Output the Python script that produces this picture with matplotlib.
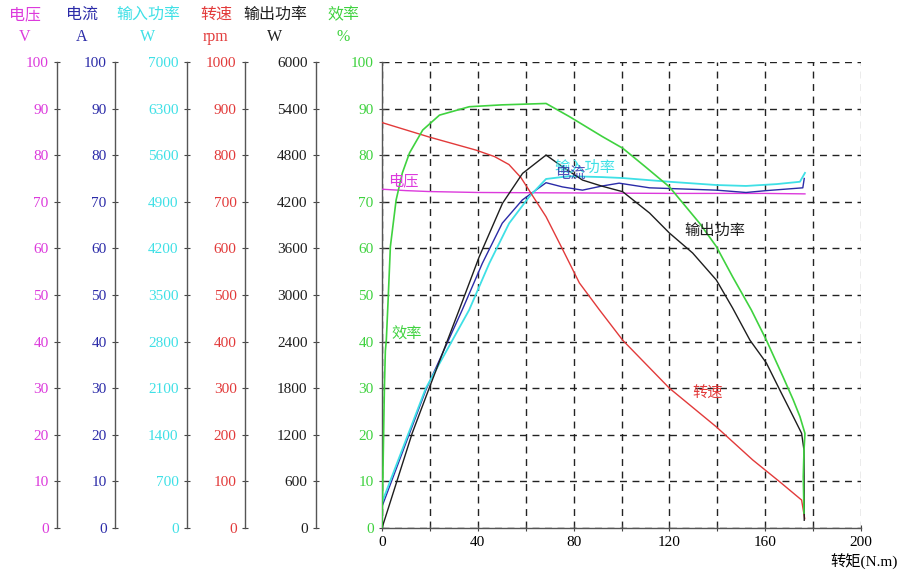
import numpy as np
import matplotlib
matplotlib.use("Agg")
from matplotlib import pyplot as plt

plt.rcParams['font.family'] = ['Liberation Serif', 'Noto Sans CJK SC', 'DejaVu Sans']

# torque (N.m) vs. each quantity
eff_x = [0, 0.5, 1.0, 1.4, 1.8, 2.5, 3.5, 5.9, 8.5, 11.5, 17, 24, 36.4, 50, 68.5, 78.2,
         92, 100.5, 110, 120, 132.6, 139.6, 146.4, 154.2, 160.5, 167.4, 171.7, 174.5,
         176.6, 176.2, 175.9, 176.2]
eff_y = [0, 15, 30, 38, 40.3, 48.3, 60.4, 70.4, 76.2, 80.5, 85.4, 88.6, 90.4, 90.8, 91.1,
         88.3, 84, 81.5, 77.5, 73.2, 65.4, 60.4, 53.9, 46.8, 40.3, 32.5, 27.5, 23.9,
         20.3, 16.7, 11, 3.2]

out_x = [0, 12.6, 19.7, 32.2, 40.6, 50.3, 58.7, 68.5, 75.3, 83.7, 92, 100.5, 111.7,
         120, 129.7, 139.6, 146.4, 153.6, 160.5, 166.1, 171, 175.2, 176.2, 176.3]
out_w = [0, 1220, 1800, 2807, 3493, 4180, 4566, 4802, 4652, 4480, 4400, 4330, 4056,
         3798, 3541, 3193, 2832, 2420, 2124, 1777, 1478, 1219, 1001, 100]

spd_x = [0, 19.7, 39.2, 47, 53, 58, 63, 68.5, 75.5, 82.4, 90.8, 100.5, 120, 139.6,
         154.8, 166.1, 175.2, 176.5]
spd_rpm = [870, 839, 811, 797, 780, 752, 712, 668, 597, 526, 468, 403, 300, 217,
           146, 99, 60, 20]

volt_x = [0, 10, 19.7, 40, 80, 120, 160, 176.6]
volt_v = [72.7, 72.4, 72.2, 72.0, 71.9, 71.8, 71.8, 71.7]

cur_x = [0, 18.3, 33.5, 41.9, 50.2, 58.6, 68.5, 75.3, 83.7, 92, 99, 111.7, 139.6,
         152, 160.5, 175.7, 176.3]
cur_a = [4.6, 29.6, 46.8, 56.8, 65.4, 70.4, 74.1, 73.2, 72.5, 73.4, 74, 73, 72.5,
         72, 72.4, 73, 75]

pin_x = [0, 18.3, 36.4, 44.8, 53.1, 61.5, 68.5, 78.2, 92, 100.5, 120, 139.6, 152,
         164.8, 174.5, 176.6]
pin_w = [385, 2100, 3276, 3976, 4578, 4977, 5243, 5285, 5271, 5257, 5201, 5152, 5138,
         5166, 5201, 5334]

# axis names / units / ranges, left to right
ax_names = ['电压', '电流', '输入功率', '转速', '输出功率', '效率']
ax_units = ['V', 'A', 'W', 'rpm', 'W', '%']
ax_max = [100, 100, 7000, 1000, 6000, 100]
x_ticks = list(range(0, 201, 20))

c_volt = '#dc3adc'
c_cur = '#2b2ba8'
c_pin = '#3fe0e6'
c_spd = '#e23a3a'
c_out = '#1e1e1e'
c_eff = '#3fd23f'
colors = [c_volt, c_cur, c_pin, c_spd, c_out, c_eff]

W, H = 901, 574
fig = plt.figure(figsize=(W / 100, H / 100), dpi=100)
x0, x1, y0, y1 = 382, 861, 62, 528
ax = fig.add_axes([x0 / W, 1 - y1 / H, (x1 - x0) / W, (y1 - y0) / H])

fs = 11
ax.set_xlim(0, 200)
ax.set_ylim(0, ax_max[5])
ax.set_xticks(x_ticks)
ax.set_xticklabels([str(t) if t % 40 == 0 else '' for t in x_ticks], fontsize=fs)
ax.set_yticks(np.linspace(0, ax_max[5], 11))
ax.set_yticklabels([f'{v:g}' for v in np.linspace(0, ax_max[5], 11)], fontsize=fs, color=c_eff)
ax.tick_params(direction='inout', length=5, width=0.8, color='#444444')
ax.grid(True, ls=(0, (5, 4)), color='#222222', lw=1.0)
ax.get_xgridlines()[-1].set_alpha(0.45)
for s in ['top', 'right']:
    ax.spines[s].set_visible(False)
for s in ['left', 'bottom']:
    ax.spines[s].set_color('#555555')
    ax.spines[s].set_linewidth(1.0)

# spine positions (px) of the extra left axes
spine_px = [57, 115, 187, 245, 316]
twins = []
for i, px in enumerate(spine_px):
    t = ax.twinx()
    t.set_ylim(0, ax_max[i])
    t.spines['left'].set_visible(True)
    t.spines['left'].set_position(('axes', (px - x0) / (x1 - x0)))
    t.spines['left'].set_color('#555555')
    t.spines['left'].set_linewidth(1.0)
    for s in ['right', 'top', 'bottom']:
        t.spines[s].set_visible(False)
    t.yaxis.set_ticks_position('left')
    t.yaxis.set_label_position('left')
    ticks = np.linspace(0, ax_max[i], 11)
    t.set_yticks(ticks)
    t.set_yticklabels([f'{v:g}' for v in ticks], fontsize=fs, color=colors[i])
    t.tick_params(direction='inout', length=5, width=0.8, color='#444444')
    twins.append(t)

ax_v, ax_c, ax_p, ax_s, ax_o = twins
lw = 1.0
ax_v.plot(volt_x, volt_v, color=c_volt, lw=lw)
ax_p.plot(pin_x, pin_w, color=c_pin, lw=lw + 0.3)
ax_c.plot(cur_x, cur_a, color=c_cur, lw=lw)
ax_s.plot(spd_x, spd_rpm, color=c_spd, lw=lw)
ax_o.plot(out_x, out_w, color=c_out, lw=lw)
ax_o.plot(eff_x, np.array(eff_y) * ax_max[4] / ax_max[5], color=c_eff, lw=lw + 0.2)

# curve labels
lab_fs = 11
ax_o.text(9, 74.5 * 60, '电压', color=c_volt, fontsize=lab_fs, ha='center', va='center')
ax_o.text(84.5, 77.3 * 60, '输入功率', color=c_pin, fontsize=lab_fs, ha='center', va='center')
ax_o.text(78.5, 76.0 * 60, '电流', color=c_cur, fontsize=lab_fs, ha='center', va='center', alpha=0.8)
ax_o.text(139, 63.7 * 60, '输出功率', color=c_out, fontsize=lab_fs, ha='center', va='center')
ax_o.text(10.5, 41.4 * 60, '效率', color=c_eff, fontsize=lab_fs, ha='center', va='center')
ax_o.text(136, 29 * 60, '转速', color=c_spd, fontsize=lab_fs, ha='center', va='center')

fig.text(898 / W, 1 - 562 / H, '转矩(N.m)', fontsize=fs, ha='right', va='center')

# header: names and units above each axis
head_px = [25, 82, 148, 216, 275, 343]
for i, px in enumerate(head_px):
    fig.text(px / W, 1 - 15 / H, ax_names[i], color=colors[i], fontsize=11.5, ha='center', va='center')
    fig.text(px / W, 1 - 37 / H, ax_units[i], color=colors[i], fontsize=11.5, ha='center', va='center')

fig.savefig('out.png', dpi=100)
